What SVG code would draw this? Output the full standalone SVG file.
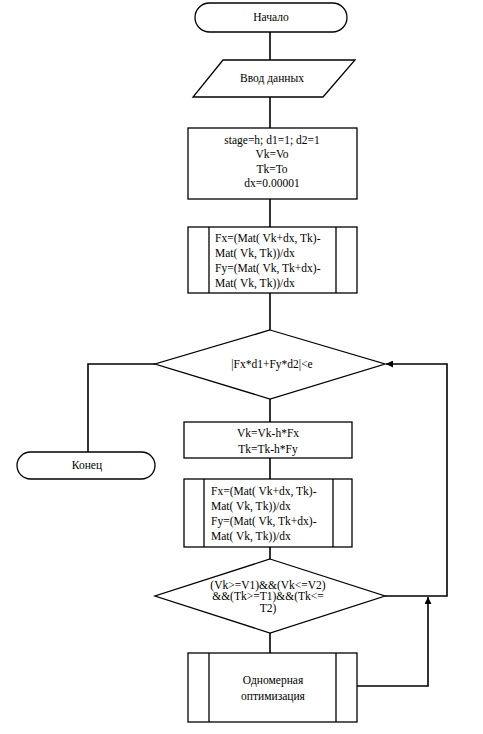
<svg xmlns="http://www.w3.org/2000/svg" width="483" height="734" viewBox="0 0 483 734" font-family="'Liberation Serif', 'Times New Roman', serif" font-size="11">
<style>
.s{fill:#fff;stroke:#000;stroke-width:1.3}
.c{fill:none;stroke:#000;stroke-width:1.6}
text{font-family:'Liberation Serif','Times New Roman',serif;font-size:11.5px;fill:#000}
.m{text-anchor:middle}
</style>
<defs>
<marker id="ah" viewBox="0 0 10 10" refX="10" refY="5" markerWidth="7" markerHeight="7" markerUnits="userSpaceOnUse" orient="auto">
<path d="M0,0L10,5L0,10z" fill="#000"/>
</marker>
</defs>
<g id="connectors">
<path class="c" d="M270,32V60"/>
<path class="c" d="M270,97V128"/>
<path class="c" d="M270,199V227"/>
<path class="c" d="M270,293V330"/>
<path class="c" d="M155,364H88V452"/>
<path class="c" d="M270,399V422"/>
<path class="c" d="M270,458V479"/>
<path class="c" d="M270,547V559"/>
<path class="c" d="M270,633V653"/>
<path class="c" d="M385,596H447V364H386" marker-end="url(#ah)"/>
<path class="c" d="M357,686H428V597" marker-end="url(#ah)"/>
</g>
<g id="start">
<rect class="s" x="195" y="3" width="152" height="29" rx="14.5"/>
<text class="m" x="271" y="21">Начало</text>
</g>
<g id="input">
<polygon class="s" points="223,60 355,60 323,97 193,97"/>
<text class="m" x="272" y="82">Ввод данных</text>
</g>
<g id="init">
<rect class="s" x="188" y="128" width="169" height="71"/>
<text class="m" x="272" y="144">stage=h; d1=1; d2=1</text>
<text class="m" x="272" y="158">Vk=Vo</text>
<text class="m" x="272" y="173">Tk=To</text>
<text class="m" x="272" y="187">dx=0.00001</text>
</g>
<g id="grad1">
<rect class="s" x="188" y="227" width="169" height="66"/>
<path class="s" d="M209,227V293M336,227V293"/>
<text x="215" y="242">Fx=(Mat( Vk+dx, Tk)-</text>
<text x="215" y="257">Mat( Vk, Tk))/dx</text>
<text x="215" y="272">Fy=(Mat( Vk, Tk+dx)-</text>
<text x="215" y="287">Mat( Vk, Tk))/dx</text>
</g>
<g id="cond1">
<polygon class="s" points="270,330 385,364 270,399 155,364"/>
<text class="m" x="272" y="368">|Fx*d1+Fy*d2|&lt;e</text>
</g>
<g id="end">
<rect class="s" x="17" y="452" width="138" height="27" rx="13.5"/>
<text class="m" x="87" y="469">Конец</text>
</g>
<g id="step">
<rect class="s" x="184" y="422" width="168" height="36"/>
<text class="m" x="268" y="437">Vk=Vk-h*Fx</text>
<text class="m" x="268" y="453">Tk=Tk-h*Fy</text>
</g>
<g id="grad2">
<rect class="s" x="184" y="479" width="168" height="68"/>
<path class="s" d="M204,479V547M333,479V547"/>
<text x="211" y="495">Fx=(Mat( Vk+dx, Tk)-</text>
<text x="211" y="510">Mat( Vk, Tk))/dx</text>
<text x="211" y="525">Fy=(Mat( Vk, Tk+dx)-</text>
<text x="211" y="540">Mat( Vk, Tk))/dx</text>
</g>
<g id="cond2">
<polygon class="s" points="270,559 385,596 270,633 155,596"/>
<text class="m" x="268" y="589">(Vk&gt;=V1)&amp;&amp;(Vk&lt;=V2)</text>
<text class="m" x="268" y="600">&amp;&amp;(Tk&gt;=T1)&amp;&amp;(Tk&lt;=</text>
<text class="m" x="268" y="612">T2)</text>
</g>
<g id="opt">
<rect class="s" x="188" y="653" width="169" height="69"/>
<path class="s" d="M209,653V722M336,653V722"/>
<text class="m" x="273" y="684">Одномерная</text>
<text class="m" x="273" y="700">оптимизация</text>
</g>
</svg>
